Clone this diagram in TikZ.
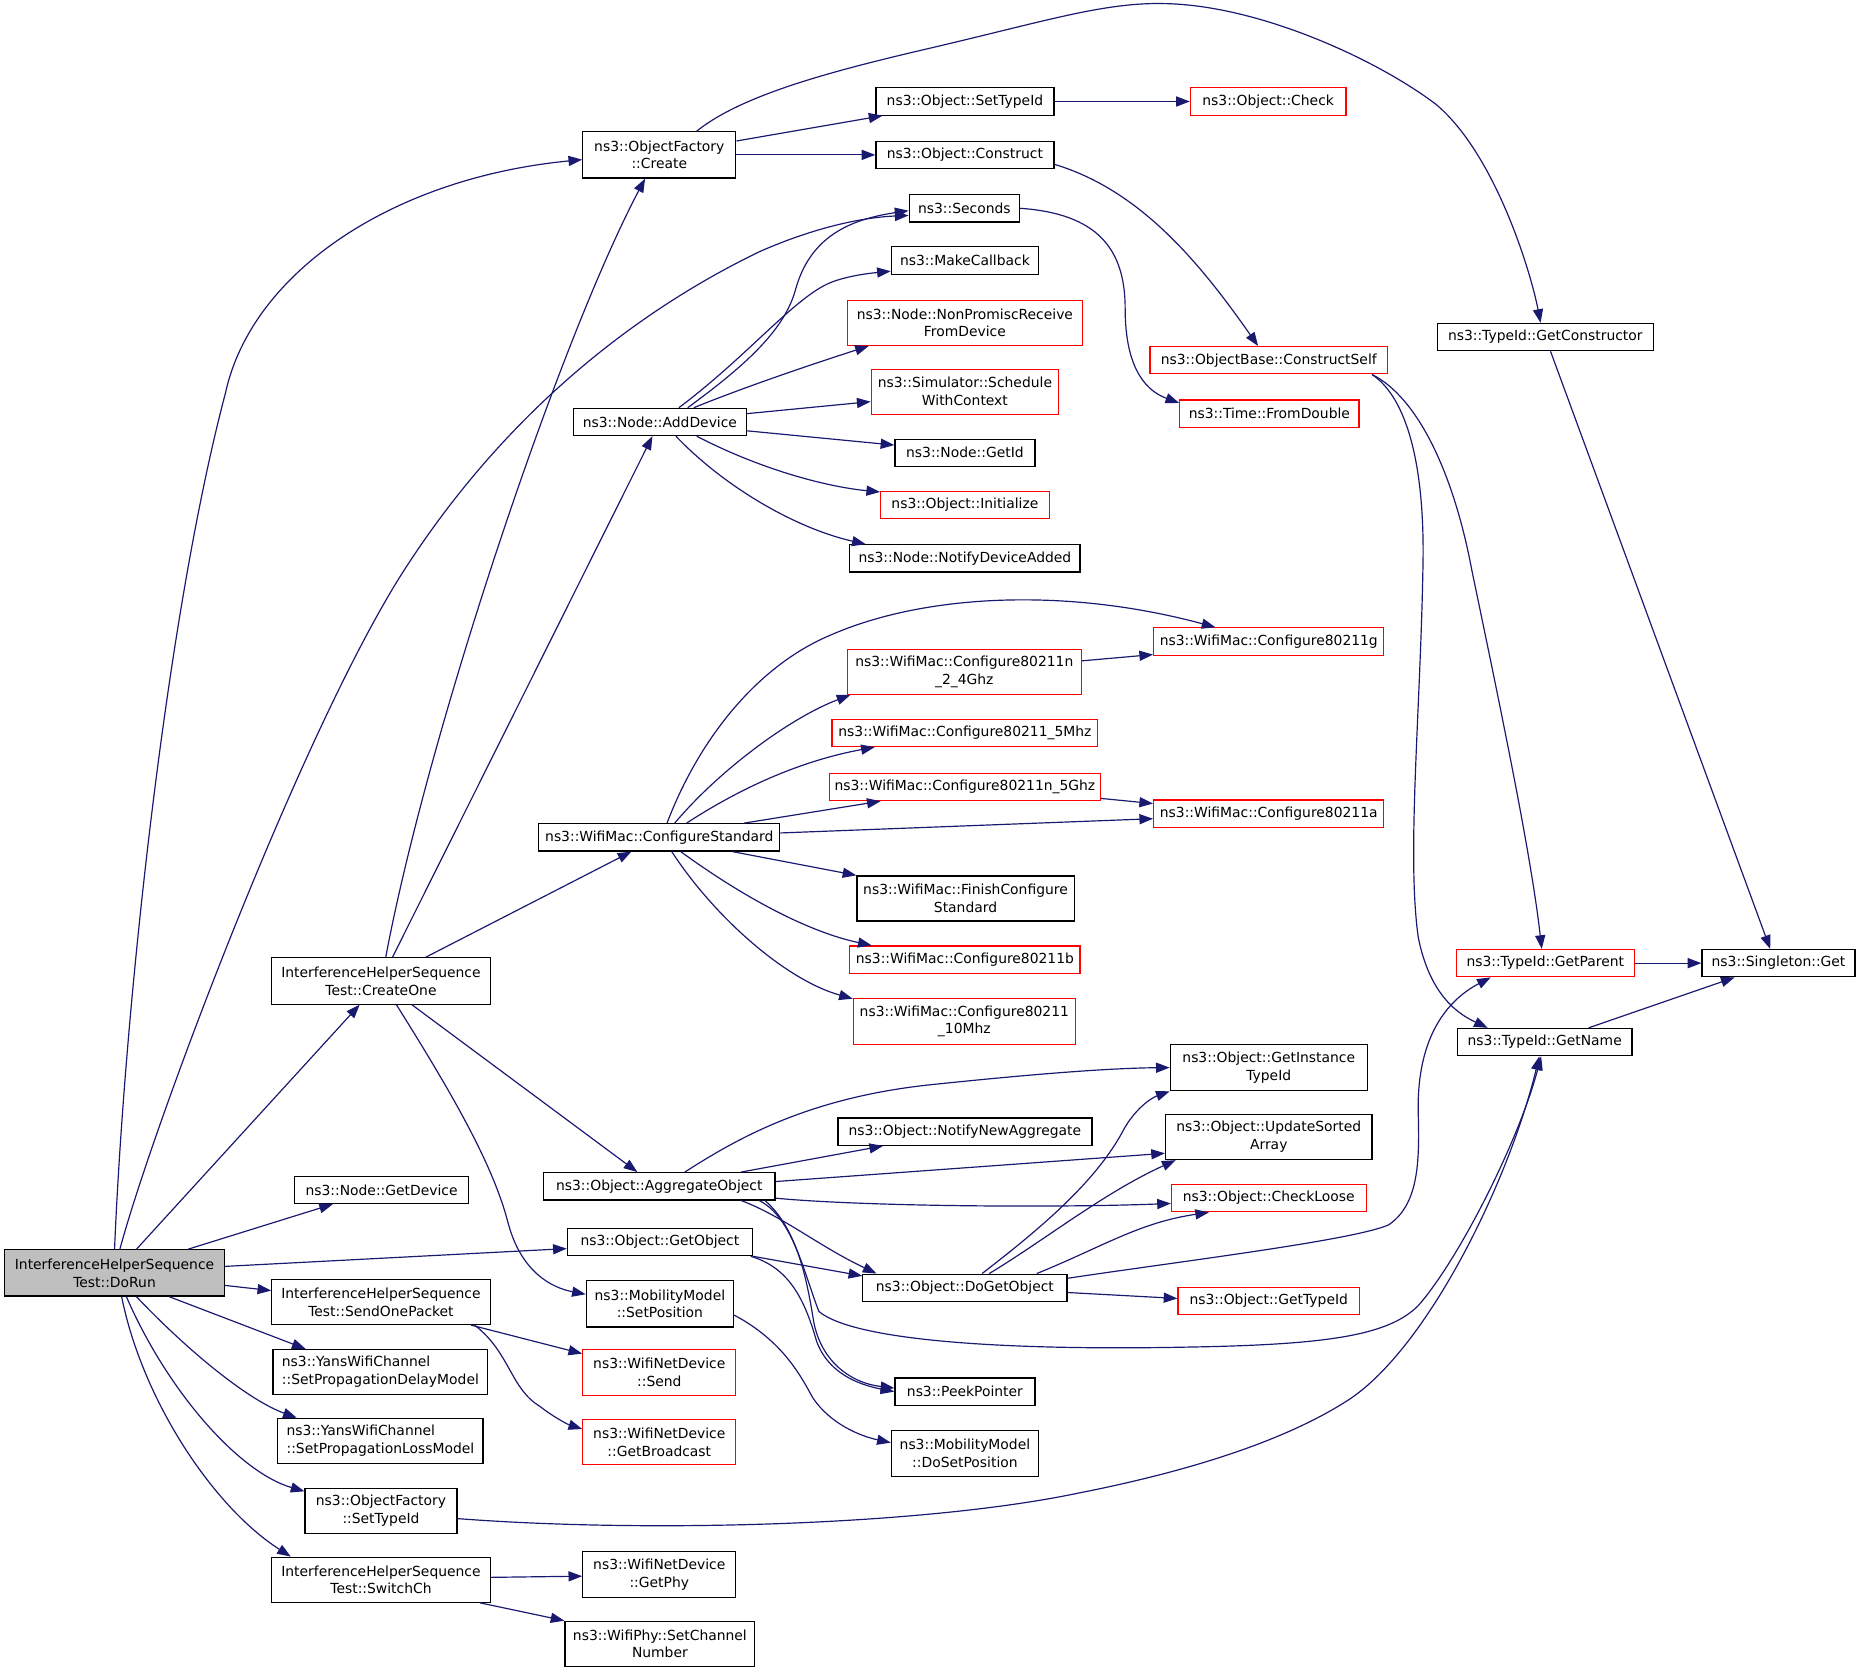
\documentclass[tikz,border=0pt]{standalone}
\usepackage{fontspec}
\setmainfont{DejaVu Sans}
\usetikzlibrary{arrows.meta}
\definecolor{edgeblue}{HTML}{191970}
\definecolor{boxgray}{HTML}{BFBFBF}
\newcommand\nodefont{\fontsize{11.7}{15}\selectfont}
\tikzset{
  box/.style={draw=black, line width=1pt, inner sep=0pt, align=center, font=\nodefont, fill=white},
  redbox/.style={box, draw=red},
  graybox/.style={box, fill=boxgray},
  conn/.style={draw=edgeblue, line width=1pt, -{Triangle[length=11.5pt,width=8.5pt]}},
}
\begin{document}
\begin{tikzpicture}[x=1pt,y=-1pt]
\fill[white] (0,0) rectangle (1568,1409);
\useasboundingbox (0,0) rectangle (1568,1409);

% nodes
\node[graybox,minimum width=185,minimum height=39] (dorun) at (96.5,1072.5) {InterferenceHelperSequence\\Test::DoRun};
\node[box,minimum width=129,minimum height=39] (create) at (555.5,130.5) {ns3::ObjectFactory\\::Create};
\node[box,minimum width=150,minimum height=23] (settypeid) at (813,85.5) {ns3::Object::SetTypeId};
\node[redbox,minimum width=131,minimum height=23] (check) at (1068.5,85.5) {ns3::Object::Check};
\node[box,minimum width=150,minimum height=23] (construct) at (813,130.5) {ns3::Object::Construct};
\node[box,minimum width=93,minimum height=23] (seconds) at (812.5,175.5) {ns3::Seconds};
\node[box,minimum width=124,minimum height=23] (makecb) at (813,219.5) {ns3::MakeCallback};
\node[redbox,minimum width=198,minimum height=38] (nonprom) at (813,272) {ns3::Node::NonPromiscReceive\\FromDevice};
\node[redbox,minimum width=158,minimum height=38] (sched) at (813,330) {ns3::Simulator::Schedule\\WithContext};
\node[box,minimum width=146,minimum height=23] (adddev) at (556,355.5) {ns3::Node::AddDevice};
\node[box,minimum width=118,minimum height=23] (getid) at (813,381.5) {ns3::Node::GetId};
\node[redbox,minimum width=142,minimum height=23] (init) at (813,425.5) {ns3::Object::Initialize};
\node[box,minimum width=194,minimum height=23] (notifydev) at (813,470.5) {ns3::Node::NotifyDeviceAdded};
\node[redbox,minimum width=200,minimum height=23] (constself) at (1069,303.5) {ns3::ObjectBase::ConstructSelf};
\node[redbox,minimum width=151,minimum height=23] (fromdouble) at (1069.5,348.5) {ns3::Time::FromDouble};
\node[box,minimum width=182,minimum height=23] (getctor) at (1302,284) {ns3::TypeId::GetConstructor};
\node[redbox,minimum width=194,minimum height=23] (c11g) at (1069,540.5) {ns3::WifiMac::Configure80211g};
\node[redbox,minimum width=197,minimum height=38] (c11n24) at (812.5,566) {ns3::WifiMac::Configure80211n\\\_2\_4Ghz};
\node[redbox,minimum width=224,minimum height=23] (c5mhz) at (813,617.5) {ns3::WifiMac::Configure80211\_5Mhz};
\node[redbox,minimum width=228,minimum height=23] (c11n5) at (813,663) {ns3::WifiMac::Configure80211n\_5Ghz};
\node[redbox,minimum width=194,minimum height=23] (c11a) at (1069,685.5) {ns3::WifiMac::Configure80211a};
\node[box,minimum width=203,minimum height=23] (cfgstd) at (555.5,705.5) {ns3::WifiMac::ConfigureStandard};
\node[box,minimum width=183,minimum height=38] (finish) at (813.5,757) {ns3::WifiMac::FinishConfigure\\Standard};
\node[redbox,minimum width=194,minimum height=23] (c11b) at (813,808.5) {ns3::WifiMac::Configure80211b};
\node[redbox,minimum width=187,minimum height=39] (c10mhz) at (812.5,860.5) {ns3::WifiMac::Configure80211\\\_10Mhz};
\node[redbox,minimum width=150,minimum height=23] (getparent) at (1302,811.5) {ns3::TypeId::GetParent};
\node[box,minimum width=129,minimum height=23] (singleton) at (1498.5,811.5) {ns3::Singleton::Get};
\node[box,minimum width=147,minimum height=23] (getname) at (1301.5,878) {ns3::TypeId::GetName};
\node[box,minimum width=166,minimum height=39] (instance) at (1069,899.5) {ns3::Object::GetInstance\\TypeId};
\node[box,minimum width=214,minimum height=23] (notifynew) at (813,953.5) {ns3::Object::NotifyNewAggregate};
\node[box,minimum width=174,minimum height=38] (updsort) at (1069,958) {ns3::Object::UpdateSorted\\Array};
\node[redbox,minimum width=164,minimum height=23] (checkloose) at (1069,1009.5) {ns3::Object::CheckLoose};
\node[box,minimum width=195,minimum height=23] (aggr) at (555.5,999.5) {ns3::Object::AggregateObject};
\node[box,minimum width=147,minimum height=23] (getdevice) at (321.5,1002.5) {ns3::Node::GetDevice};
\node[box,minimum width=156,minimum height=23] (getobject) at (556,1046.5) {ns3::Object::GetObject};
\node[box,minimum width=172,minimum height=23] (dogetobj) at (813,1085) {ns3::Object::DoGetObject};
\node[redbox,minimum width=153,minimum height=23] (gettypeid) at (1069,1096) {ns3::Object::GetTypeId};
\node[box,minimum width=184,minimum height=38] (sendone) at (321,1097) {InterferenceHelperSequence\\Test::SendOnePacket};
\node[box,minimum width=124,minimum height=39] (setpos) at (556,1098.5) {ns3::MobilityModel\\::SetPosition};
\node[redbox,minimum width=129,minimum height=39] (send) at (555.5,1156.5) {ns3::WifiNetDevice\\::Send};
\node[redbox,minimum width=129,minimum height=38] (bcast) at (555.5,1215) {ns3::WifiNetDevice\\::GetBroadcast};
\node[box,minimum width=118,minimum height=23] (peek) at (813,1172.5) {ns3::PeekPointer};
\node[box,minimum width=124,minimum height=39] (dosetpos) at (813,1224.5) {ns3::MobilityModel\\::DoSetPosition};
\node[box,align=left,minimum width=181,minimum height=38] (delay) at (320.5,1156) {ns3::YansWifiChannel\\::SetPropagationDelayModel};
\node[box,align=left,minimum width=173,minimum height=38] (loss) at (320.5,1214) {ns3::YansWifiChannel\\::SetPropagationLossModel};
\node[box,minimum width=128,minimum height=38] (oftypeid) at (321,1273) {ns3::ObjectFactory\\::SetTypeId};
\node[box,minimum width=184,minimum height=38] (switchch) at (321,1331) {InterferenceHelperSequence\\Test::SwitchCh};
\node[box,minimum width=129,minimum height=39] (getphy) at (555.5,1326.5) {ns3::WifiNetDevice\\::GetPhy};
\node[box,minimum width=160,minimum height=38] (setchan) at (556,1385) {ns3::WifiPhy::SetChannel\\Number};
\node[box,minimum width=184,minimum height=39] (createone) at (321,826.5) {InterferenceHelperSequence\\Test::CreateOne};

% edges from DoRun
\draw[conn] (dorun.north) .. controls (105,850) and (140,520) .. (190,331) .. controls (212,230) and (330,150) .. ([yshift=-4]create.west);
\draw[conn] ([xshift=4.5]dorun.north) .. controls (130,945) and (260,600) .. (346,472) .. controls (420,360) and (520,270) .. (640,212) .. controls (690,190) and (730,183) .. ([yshift=-6]seconds.west);
\draw[conn] ([xshift=18.5]dorun.north) -- ([xshift=-18]createone.south);
\draw[conn] ([xshift=62]dorun.north) -- ([xshift=-41]getdevice.south);
\draw[conn] ([yshift=5.5]dorun.east) -- ([yshift=-5.5]getobject.west);
\draw[conn] ([yshift=-10.5]dorun.east) -- ([yshift=9.6]sendone.west);
\draw[conn] ([xshift=46]dorun.south) -- ([xshift=-63]delay.north);
\draw[conn] ([xshift=18.5]dorun.south) .. controls (160,1140) and (210,1180) .. ([xshift=-70.5]loss.north);
\draw[conn] ([xshift=10]dorun.south) .. controls (140,1170) and (200,1240) .. ([yshift=-3]oftypeid.north west);
\draw[conn] ([xshift=6]dorun.south) .. controls (120,1180) and (180,1270) .. ([xshift=-76]switchch.north);

% edges from CreateOne
\draw[conn] ([xshift=4]createone.north) .. controls (360,620) and (470,290) .. ([xshift=-12]create.south);
\draw[conn] ([xshift=9.7]createone.north) -- ([xshift=-6.3]adddev.south);
\draw[conn] ([xshift=37.7]createone.north) -- ([xshift=-23.5]cfgstd.south);
\draw[conn] ([xshift=26]createone.south) -- ([xshift=-18.5]aggr.north);
\draw[conn] ([xshift=13]createone.south) .. controls (380,920) and (415,980) .. (428,1030) .. controls (439,1072) and (465,1085) .. ([yshift=8]setpos.west);

% edges from Create
\draw[conn] ([yshift=11.7]create.east) -- ([xshift=6]settypeid.south west);
\draw[conn] (create.east) -- (construct.west);
\draw[conn] ([xshift=31.5]create.north) .. controls (625,80) and (700,60) .. (784,40.5) .. controls (880,18) and (930,2) .. (980,3) .. controls (1060,4) and (1160,50) .. (1210,88) .. controls (1260,130) and (1290,230) .. ([xshift=-4]getctor.north);
\draw[conn] (settypeid.east) -- (check.west);
\draw[conn] ([yshift=-8]construct.east) .. controls (960,160) and (1010,220) .. ([xshift=-9]constself.north);
\draw[conn] (seconds.east) .. controls (925,180) and (948,210) .. (948,260) .. controls (948,305) and (962,328) .. ([yshift=-3]fromdouble.north west);
\draw[conn] ([xshift=87]constself.south) .. controls (1195,335) and (1225,400) .. (1240,480) .. controls (1265,600) and (1290,720) .. ([xshift=-3]getparent.north);
\draw[conn] ([xshift=87]constself.south) .. controls (1185,335) and (1200,390) .. (1199,472) .. controls (1197,600) and (1185,720) .. (1195,790) .. controls (1205,840) and (1230,855) .. ([xshift=-48]getname.north);
\draw[conn] ([xshift=4.4]getctor.south) -- ([xshift=-7]singleton.north);
\draw[conn] (getparent.east) -- (singleton.west);
\draw[conn] ([xshift=37]getname.north) -- ([xshift=-37]singleton.south);

% edges from AddDevice
\draw[conn] ([xshift=23.5]adddev.north) .. controls (625,310) and (660,280) .. (670,245) .. controls (682,200) and (715,185) .. ([yshift=-2]seconds.west);
\draw[conn] ([xshift=16]adddev.north) .. controls (630,300) and (670,250) .. (700,238) .. controls (715,232) and (735,230) .. ([yshift=-9]makecb.west);
\draw[conn] ([xshift=28.6]adddev.north) .. controls (630,325) and (690,305) .. ([xshift=-81]nonprom.south);
\draw[conn] ([yshift=7]adddev.east) -- ([yshift=-8.4]sched.west);
\draw[conn] ([yshift=-7.5]adddev.east) -- ([yshift=6.5]getid.west);
\draw[conn] ([xshift=31]adddev.south) .. controls (640,395) and (695,410) .. ([yshift=-1]init.north west);
\draw[conn] ([xshift=13.5]adddev.south) .. controls (610,410) and (670,445) .. ([xshift=-83.6]notifydev.north);

% edges from ConfigureStandard
\draw[conn] ([xshift=6.5]cfgstd.north) .. controls (590,620) and (640,560) .. (700,535) .. controls (780,500) and (900,495) .. ([xshift=-45]c11g.north);
\draw[conn] ([xshift=13]cfgstd.north) .. controls (605,650) and (665,605) .. ([xshift=3]c11n24.south west);
\draw[conn] ([xshift=23]cfgstd.north) .. controls (630,660) and (680,640) .. ([xshift=-76]c5mhz.south);
\draw[conn] ([xshift=71.5]cfgstd.north) -- ([xshift=-71]c11n5.south);
\draw[conn] ([yshift=3.7]cfgstd.east) -- ([yshift=-4.3]c11a.west);
\draw[conn] ([xshift=61.5]cfgstd.south) -- (finish.north west);
\draw[conn] ([xshift=18]cfgstd.south) .. controls (625,755) and (680,785) .. ([xshift=-78.6]c11b.north);
\draw[conn] ([xshift=10.5]cfgstd.south) .. controls (600,770) and (660,825) .. ([yshift=-1]c10mhz.north west);
\draw[conn] ([yshift=9.2]c11n24.east) -- ([yshift=-11]c11g.west);
\draw[conn] ([yshift=-9.7]c11n5.east) -- ([yshift=8.5]c11a.west);

% edges from AggregateObject
\draw[conn] ([xshift=21.5]aggr.north) .. controls (620,960) and (680,925) .. (783.5,914) .. controls (860,906) and (930,900) .. (instance.west);
\draw[conn] ([xshift=69]aggr.north) -- ([xshift=-69]notifynew.south);
\draw[conn] ([yshift=4]aggr.east) -- ([yshift=-13.7]updsort.west);
\draw[conn] ([yshift=2]aggr.south east) .. controls (720,1016) and (880,1018) .. ([yshift=-4.5]checkloose.west);
\draw[conn] ([xshift=69]aggr.south) .. controls (660,1025) and (690,1050) .. ([xshift=12]dogetobj.north west);
\draw[conn] ([xshift=89]aggr.south) .. controls (672,1035) and (680,1080) .. (685,1110) .. controls (690,1145) and (715,1165) .. ([yshift=3]peek.west);
\draw[conn] ([xshift=84]aggr.south) .. controls (668,1025) and (678,1075) .. (690,1105) .. controls (720,1130) and (850,1138) .. (1000,1135) .. controls (1120,1133) and (1170,1125) .. (1195,1100) .. controls (1230,1060) and (1280,960) .. ([xshift=-3]getname.south);

% edges from GetObject
\draw[conn] (getobject.south east) -- ([yshift=-2]dogetobj.north west);
\draw[conn] ([xshift=-2]getobject.south east) .. controls (665,1068) and (678,1095) .. (688,1130) .. controls (697,1155) and (720,1166) .. (peek.west);

% edges from DoGetObject
\draw[conn] ([xshift=14.5]dogetobj.north) .. controls (870,1040) and (920,1000) .. (945,955) .. controls (955,935) and (970,925) .. (instance.south west);
\draw[conn] ([xshift=20.5]dogetobj.north) .. controls (880,1045) and (930,1005) .. ([xshift=9]updsort.south west);
\draw[conn] ([xshift=60.6]dogetobj.north) .. controls (930,1050) and (960,1030) .. ([xshift=-50.4]checkloose.south);
\draw[conn] ([yshift=8]dogetobj.east) .. controls (1000,1062) and (1140,1045) .. (1170,1032) .. controls (1195,1015) and (1196,980) .. (1195,940) .. controls (1193,880) and (1215,845) .. ([xshift=-46]getparent.south);
\draw[conn] ([yshift=-4]dogetobj.east) -- ([yshift=2]gettypeid.west);

% remaining edges
\draw[conn] ([xshift=76]sendone.south) -- ([yshift=-4]send.north west);
\draw[conn] ([xshift=79]sendone.south) .. controls (430,1140) and (430,1170) .. (455,1185) .. controls (465,1193) and (478,1200) .. ([yshift=-8.5]bcast.north west);
\draw[conn] ([yshift=-9.5]setpos.east) .. controls (660,1130) and (675,1160) .. (685,1178) .. controls (700,1200) and (725,1210) .. ([yshift=9]dosetpos.west);
\draw[conn] ([yshift=-6.5]oftypeid.east) .. controls (550,1292) and (780,1285) .. (908.6,1258) .. controls (1000,1240) and (1080,1215) .. (1133.8,1181) .. controls (1200,1140) and (1270,1000) .. ([xshift=-4.5]getname.south);
\draw[conn] ([yshift=2]switchch.east) -- ([yshift=-1.5]getphy.west);
\draw[conn] ([xshift=83.6]switchch.south) -- (setchan.north west);
\end{tikzpicture}
\end{document}
